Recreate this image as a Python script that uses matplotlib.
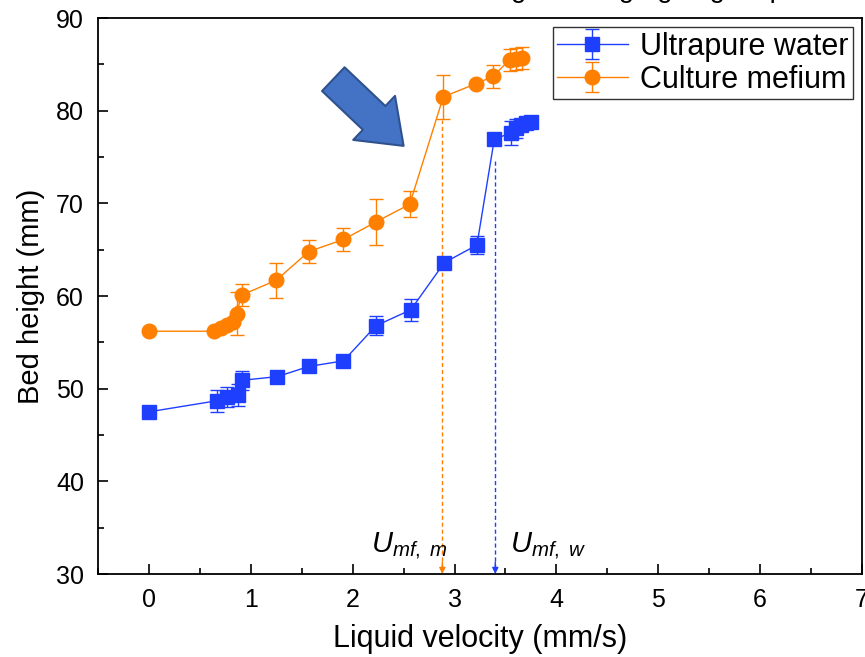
import numpy as np
import matplotlib
matplotlib.use("Agg")
import matplotlib.pyplot as plt

plt.rcParams["font.family"] = ["Liberation Sans", "DejaVu Sans"]
plt.rcParams["mathtext.fontset"] = "custom"
plt.rcParams["mathtext.it"] = "Liberation Sans:italic"
plt.rcParams["mathtext.rm"] = "Liberation Sans"

# ─────────────────────────────────────────────
# DATA
# ─────────────────────────────────────────────
water_v   = [0.0, 0.67, 0.77, 0.87, 0.91, 1.26, 1.57, 1.91, 2.23, 2.57, 2.90, 3.22, 3.39, 3.55, 3.60, 3.65, 3.70, 3.75]
water_h   = [47.5, 48.7, 49.1, 49.3, 50.9, 51.3, 52.4, 53.0, 56.8, 58.5, 63.6, 65.5, 76.9, 77.6, 78.1, 78.5, 78.7, 78.8]
water_err = [0.0, 1.2, 1.1, 1.2, 1.0, 0.0, 0.0, 0.0, 1.0, 1.2, 0.0, 1.0, 0.0, 1.3, 1.0, 0.6, 0.4, 0.0]

medium_v   = [0.0, 0.64, 0.71, 0.77, 0.83, 0.86, 0.91, 1.25, 1.57, 1.91, 2.23, 2.56, 2.89, 3.21, 3.38, 3.54, 3.60, 3.66]
medium_h   = [56.2, 56.2, 56.5, 56.9, 57.2, 58.1, 60.1, 61.7, 64.8, 66.1, 68.0, 69.9, 81.5, 82.9, 83.7, 85.5, 85.6, 85.7]
medium_err = [0.0, 0.0, 0.0, 0.0, 0.0, 2.3, 1.2, 1.9, 1.2, 1.2, 2.5, 1.4, 2.4, 0.0, 1.2, 1.2, 1.2, 1.2]

u_mf_m = 2.88
u_mf_w = 3.40

BLUE   = "#1f3fff"
ORANGE = "#ff8000"

fig = plt.figure(figsize=(8.65, 6.57), dpi=100)
ax = fig.add_axes([98 / 865, 1 - 574 / 657, 764 / 865, 556 / 657])

ax.errorbar(water_v, water_h, yerr=water_err, color=BLUE, marker="s", markersize=9.5,
            linewidth=1.0, elinewidth=1.0, capsize=5, capthick=1.0,
            label="Ultrapure water", zorder=3)
ax.errorbar(medium_v, medium_h, yerr=medium_err, color=ORANGE, marker="o", markersize=10.5,
            linewidth=1.0, elinewidth=1.0, capsize=5, capthick=1.0,
            label="Culture mefium", zorder=3)

# minimum fluidisation velocity markers
ax.vlines(u_mf_m, 30.6, 79.0, colors=ORANGE, linestyles=(0, (3, 2)), linewidth=1.0)
ax.vlines(u_mf_w, 30.6, 74.7, colors=BLUE, linestyles=(0, (3, 2)), linewidth=1.0)
for xv, c in [(u_mf_m, ORANGE), (u_mf_w, BLUE)]:
    ax.annotate("", xy=(xv, 30.0), xytext=(xv, 31.3),
                arrowprops=dict(arrowstyle="-|>", color=c, lw=1.0, mutation_scale=9,
                                shrinkA=0, shrinkB=0))

ax.text(2.18, 32.3, r"$U_{mf,\ m}$", fontsize=21, ha="left", va="baseline")
ax.text(3.54, 32.3, r"$U_{mf,\ w}$", fontsize=21, ha="left", va="baseline")

# big block arrow
ax.annotate("", xy=(2.50, 76.2), xytext=(1.81, 83.4),
            arrowprops=dict(arrowstyle="simple,head_length=0.77,head_width=1.15,tail_width=0.62",
                            mutation_scale=38, fc="#4472c4", ec="#2f528f", lw=1.5,
                            shrinkA=0, shrinkB=0))

ax.set_xlim(-0.5, 7.0)
ax.set_ylim(30, 90)
ax.set_xticks(range(0, 8))
ax.set_yticks(range(30, 91, 10))
ax.set_xticks(np.arange(-0.5, 7.01, 0.5), minor=True)
ax.set_yticks(range(35, 90, 10), minor=True)
ax.tick_params(which="both", direction="in", width=1.2, labelsize=18)
ax.tick_params(which="major", length=7, pad=10)
ax.tick_params(which="minor", length=4)
for s in ax.spines.values():
    s.set_linewidth(1.3)

ax.set_xlabel("Liquid velocity (mm/s)", fontsize=22, labelpad=9)
ax.set_ylabel("Bed height (mm)", fontsize=21, labelpad=8)

leg = ax.legend(loc="upper right", fontsize=22, frameon=True, fancybox=False,
                edgecolor="black", handlelength=2.3, borderpad=0.15,
                labelspacing=0.1, handletextpad=0.4, borderaxespad=0.3)
leg.get_frame().set_linewidth(1.0)

# title, mostly cropped off the top of the picture
fig.text(0.728, 1.004, "height during ageing stop", fontsize=20,
         ha="center", va="baseline")

fig.savefig("out.png", dpi=100)
